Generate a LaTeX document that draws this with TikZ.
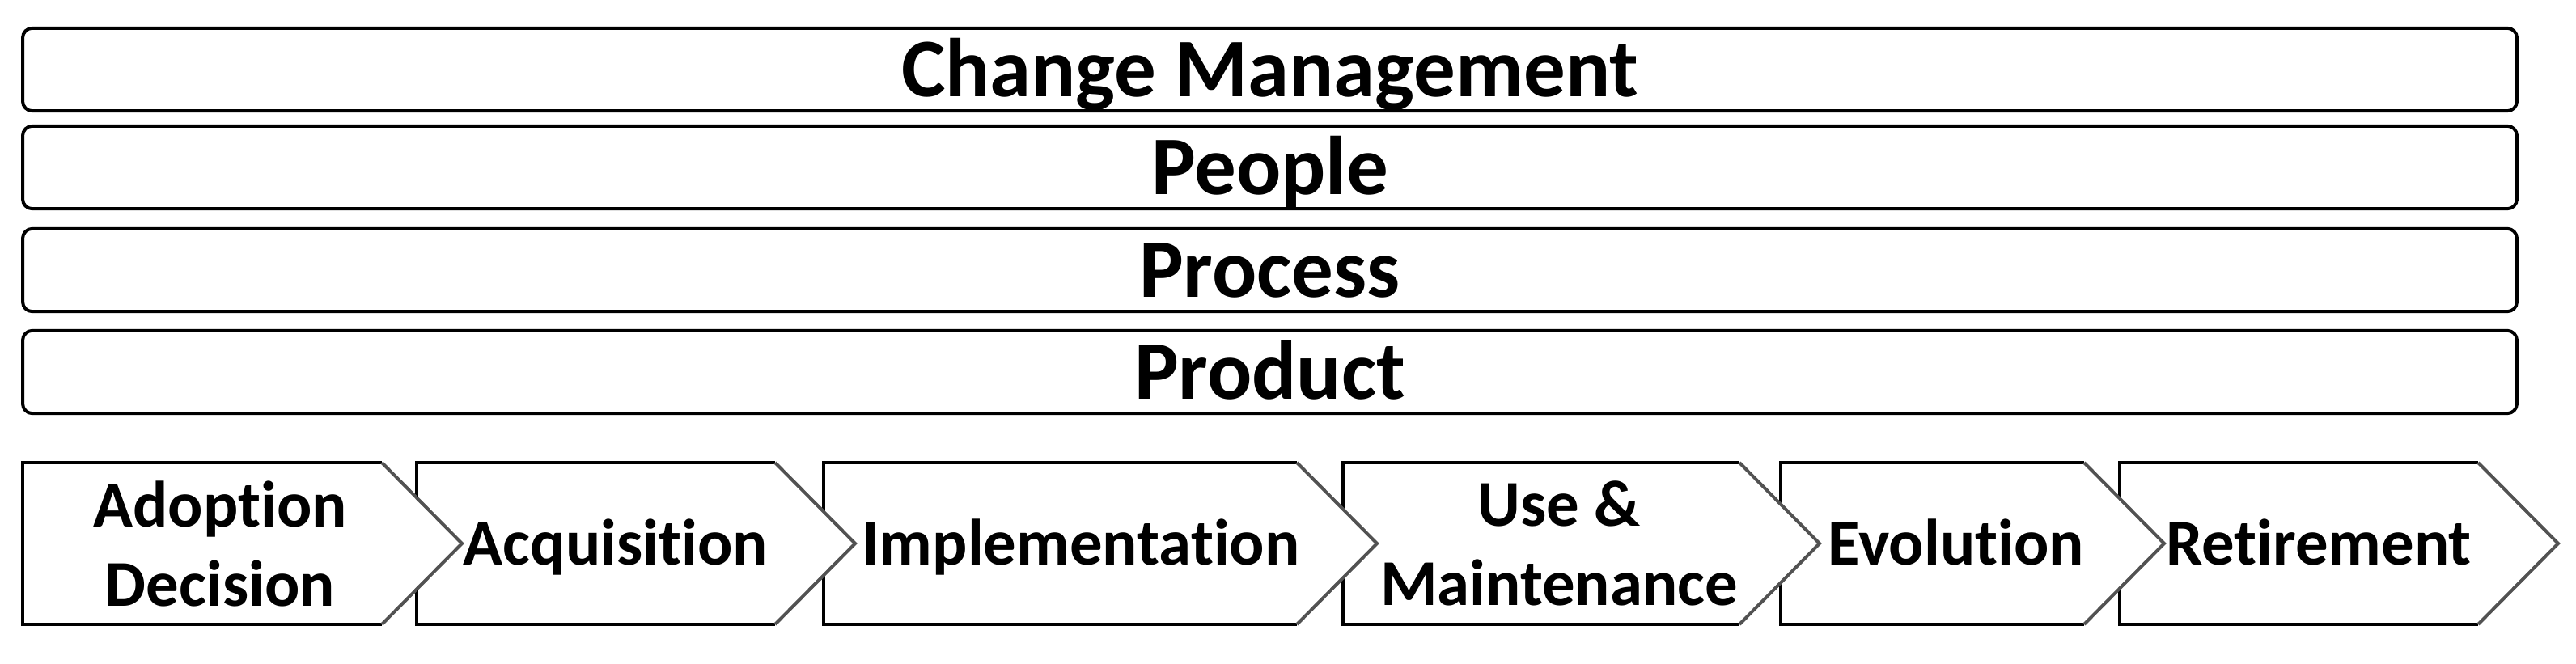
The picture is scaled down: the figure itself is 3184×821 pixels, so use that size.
\documentclass[tikz,border=0pt]{standalone}
\usepackage{fontspec}
\setmainfont{Carlito}[Ligatures=NoCommon]
\begin{document}
\begin{tikzpicture}[x=0.25pt,y=-0.25pt,
  band/.style={draw=black, line width=1pt, rounded corners=3pt, fill=white,
    minimum width=770.75pt, minimum height=25.6pt, inner sep=0pt,
    font=\bfseries\fontsize{25.75}{31}\selectfont, text height=19.3pt, text depth=2.72pt},
  chevline/.style={font=\bfseries\fontsize{20.2}{24.5}\selectfont, inner sep=0pt,
    text height=15.15pt, text depth=2.14pt},
  chevtwo/.style={font=\bfseries\fontsize{20.2}{24.5}\selectfont, inner sep=0pt, align=center},
  straight/.style={draw=black, line width=1pt},
  slant/.style={draw=black!68, line width=1pt, line join=miter}]
\useasboundingbox (0,0) rectangle (3184,821);

% horizontal bands
\node[band] (cm)   at (1569.5,86)  {Change Management};
\node[band] (ppl)  at (1569.5,207) {People};
\node[band] (proc) at (1569.5,334) {Process};
\node[band] (prod) at (1569.5,460) {Product};

% lifecycle chevrons (drawn right to left so each tip lies over the next one)
\foreach \L/\F in {2620/3063, 2201/2576, 1660/2150, 1018/1603, 515/958, 28/472}{
  \fill[white] (\L,572) -- (\F,572) -- (\F+99,672) -- (\F,772) -- (\L,772) -- cycle;
  \draw[straight] (\F,772) -- (\L,772) -- (\L,572) -- (\F,572);
  \draw[slant] (\F,572) -- (\F+99,672) -- (\F,772);
}

\node[chevtwo]  (adopt) at (272,672)  {Adoption\\Decision};
\node[chevline] (acq)   at (761,672)  {Acquisition};
\node[chevline] (impl)  at (1336,672) {Implementation};
\node[chevtwo]  (use)   at (1927,672) {Use \&\\Maintenance};
\node[chevline] (evo)   at (2418,672) {Evolution};
\node[chevline] (ret)   at (2866,672) {Retirement};
\end{tikzpicture}
\end{document}
